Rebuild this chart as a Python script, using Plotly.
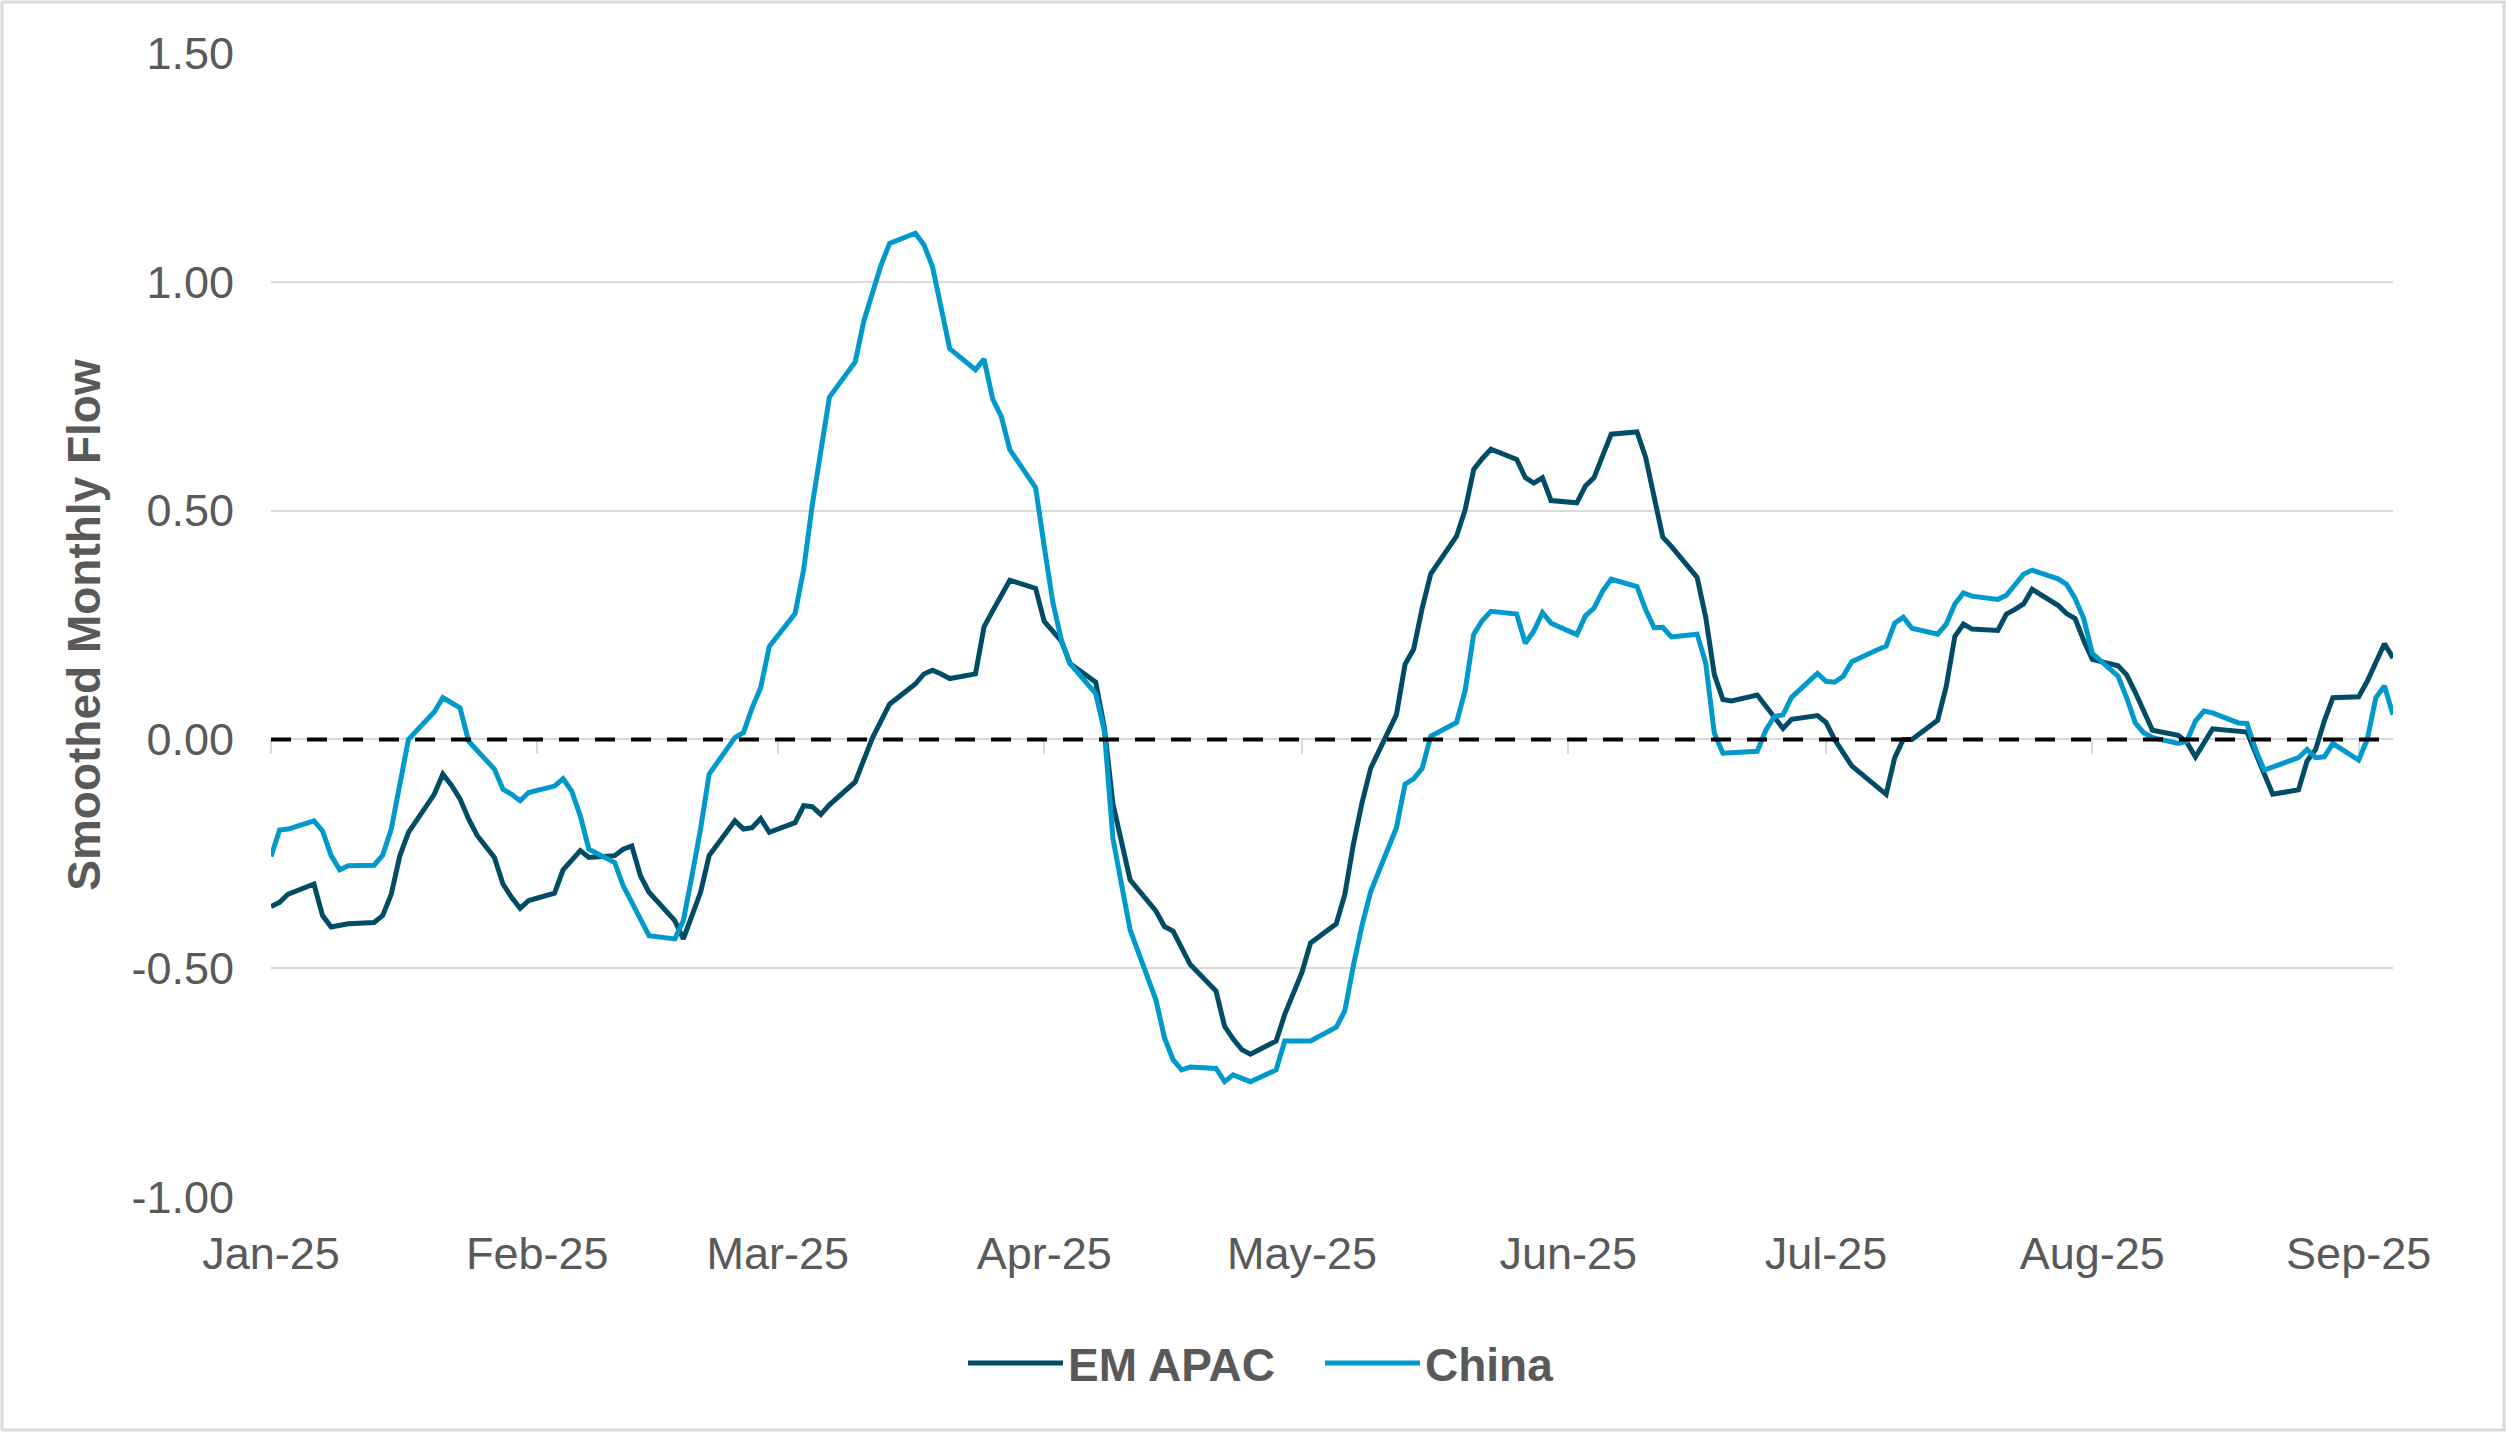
import plotly.graph_objects as go

# EM APAC smoothed monthly flow
em_dates = [
    "2025-01-01", "2025-01-02", "2025-01-03", "2025-01-06", "2025-01-07", "2025-01-08", "2025-01-10",
    "2025-01-13", "2025-01-14", "2025-01-15", "2025-01-16", "2025-01-17", "2025-01-20", "2025-01-21",
    "2025-01-22", "2025-01-23", "2025-01-24", "2025-01-25", "2025-01-27", "2025-01-28", "2025-01-29",
    "2025-01-30", "2025-01-31", "2025-02-03", "2025-02-04", "2025-02-05", "2025-02-06", "2025-02-07",
    "2025-02-10", "2025-02-11", "2025-02-12", "2025-02-13", "2025-02-14", "2025-02-17", "2025-02-18",
    "2025-02-20", "2025-02-21", "2025-02-24", "2025-02-25", "2025-02-26", "2025-02-27", "2025-02-28",
    "2025-03-03", "2025-03-04", "2025-03-05", "2025-03-06", "2025-03-07", "2025-03-10", "2025-03-11",
    "2025-03-12", "2025-03-14", "2025-03-17", "2025-03-18", "2025-03-19", "2025-03-20", "2025-03-21",
    "2025-03-24", "2025-03-25", "2025-03-26", "2025-03-28", "2025-03-31", "2025-04-01", "2025-04-03",
    "2025-04-04", "2025-04-07", "2025-04-08", "2025-04-09", "2025-04-11", "2025-04-14", "2025-04-15",
    "2025-04-16", "2025-04-18", "2025-04-21", "2025-04-22", "2025-04-23", "2025-04-24", "2025-04-25",
    "2025-04-28", "2025-04-29", "2025-05-01", "2025-05-02", "2025-05-05", "2025-05-06", "2025-05-07",
    "2025-05-08", "2025-05-09", "2025-05-12", "2025-05-13", "2025-05-14", "2025-05-15", "2025-05-16",
    "2025-05-19", "2025-05-20", "2025-05-21", "2025-05-22", "2025-05-23", "2025-05-26", "2025-05-27",
    "2025-05-28", "2025-05-29", "2025-05-30", "2025-06-02", "2025-06-03", "2025-06-04", "2025-06-06",
    "2025-06-09", "2025-06-10", "2025-06-11", "2025-06-12", "2025-06-13", "2025-06-16", "2025-06-17",
    "2025-06-18", "2025-06-19", "2025-06-20", "2025-06-23", "2025-06-24", "2025-06-25", "2025-06-26",
    "2025-06-27", "2025-06-30", "2025-07-01", "2025-07-02", "2025-07-04", "2025-07-07", "2025-07-08",
    "2025-07-09", "2025-07-10", "2025-07-11", "2025-07-14", "2025-07-15", "2025-07-16", "2025-07-17",
    "2025-07-18", "2025-07-21", "2025-07-22", "2025-07-23", "2025-07-24", "2025-07-25", "2025-07-28",
    "2025-07-29", "2025-07-30", "2025-07-31", "2025-08-01", "2025-08-04", "2025-08-05", "2025-08-06",
    "2025-08-08", "2025-08-11", "2025-08-12", "2025-08-13", "2025-08-14", "2025-08-15", "2025-08-19",
    "2025-08-20", "2025-08-21", "2025-08-22", "2025-08-25", "2025-08-26", "2025-08-27", "2025-08-28",
    "2025-08-29", "2025-09-01", "2025-09-02", "2025-09-03", "2025-09-04", "2025-09-05",
]
em_values = [
    -0.365, -0.356, -0.338, -0.316, -0.385, -0.41, -0.403,
    -0.40, -0.385, -0.338, -0.254, -0.203, -0.12, -0.076,
    -0.10, -0.13, -0.174, -0.21, -0.258, -0.316, -0.345,
    -0.369, -0.352, -0.336, -0.285, -0.262, -0.243, -0.258,
    -0.254, -0.24, -0.233, -0.298, -0.334, -0.396, -0.436,
    -0.334, -0.254, -0.178, -0.196, -0.193, -0.173, -0.203,
    -0.182, -0.145, -0.147, -0.164, -0.143, -0.093, -0.042,
    0.003, 0.077, 0.121, 0.143, 0.151, 0.143, 0.133,
    0.143, 0.246, 0.281, 0.348, 0.33, 0.258, 0.215,
    0.166, 0.125, 0.026, -0.141, -0.307, -0.375, -0.409,
    -0.419, -0.492, -0.55, -0.627, -0.655, -0.678, -0.688,
    -0.659, -0.601, -0.509, -0.445, -0.403, -0.338, -0.228,
    -0.138, -0.063, 0.054, 0.164, 0.197, 0.287, 0.362,
    0.444, 0.502, 0.59, 0.614, 0.634, 0.612, 0.572,
    0.56, 0.572, 0.522, 0.517, 0.554, 0.572, 0.667,
    0.672, 0.617, 0.527, 0.442, 0.422, 0.354, 0.267,
    0.142, 0.087, 0.084, 0.097, 0.074, 0.047, 0.024,
    0.044, 0.052, 0.037, 0.0, -0.058, -0.105, -0.12,
    -0.04, 0.0, 0.0, 0.042, 0.116, 0.225, 0.252,
    0.241, 0.238, 0.274, 0.284, 0.296, 0.328, 0.293,
    0.275, 0.264, 0.216, 0.175, 0.161, 0.141, 0.103,
    0.02, 0.009, -0.006, -0.038, -0.006, 0.023, 0.016,
    -0.029, -0.069, -0.12, -0.11, -0.047, -0.022, 0.04,
    0.091, 0.093, 0.127, 0.168, 0.209, 0.178,
]

# China smoothed monthly flow
cn_dates = [
    "2025-01-01", "2025-01-02", "2025-01-03", "2025-01-06", "2025-01-07", "2025-01-08", "2025-01-09",
    "2025-01-10", "2025-01-13", "2025-01-14", "2025-01-15", "2025-01-16", "2025-01-17", "2025-01-20",
    "2025-01-21", "2025-01-23", "2025-01-24", "2025-01-27", "2025-01-28", "2025-01-29", "2025-01-30",
    "2025-01-31", "2025-02-03", "2025-02-04", "2025-02-05", "2025-02-06", "2025-02-07", "2025-02-10",
    "2025-02-11", "2025-02-12", "2025-02-14", "2025-02-17", "2025-02-18", "2025-02-19", "2025-02-20",
    "2025-02-21", "2025-02-24", "2025-02-25", "2025-02-26", "2025-02-27", "2025-02-28", "2025-03-03",
    "2025-03-04", "2025-03-05", "2025-03-07", "2025-03-10", "2025-03-11", "2025-03-13", "2025-03-14",
    "2025-03-17", "2025-03-18", "2025-03-19", "2025-03-21", "2025-03-24", "2025-03-25", "2025-03-26",
    "2025-03-27", "2025-03-28", "2025-03-31", "2025-04-01", "2025-04-02", "2025-04-03", "2025-04-04",
    "2025-04-07", "2025-04-08", "2025-04-09", "2025-04-11", "2025-04-14", "2025-04-15", "2025-04-16",
    "2025-04-17", "2025-04-18", "2025-04-21", "2025-04-22", "2025-04-23", "2025-04-25", "2025-04-28",
    "2025-04-29", "2025-05-02", "2025-05-05", "2025-05-06", "2025-05-07", "2025-05-08", "2025-05-09",
    "2025-05-12", "2025-05-13", "2025-05-14", "2025-05-15", "2025-05-16", "2025-05-19", "2025-05-20",
    "2025-05-21", "2025-05-22", "2025-05-23", "2025-05-26", "2025-05-27", "2025-05-28", "2025-05-29",
    "2025-05-30", "2025-06-02", "2025-06-03", "2025-06-04", "2025-06-05", "2025-06-06", "2025-06-09",
    "2025-06-10", "2025-06-11", "2025-06-12", "2025-06-13", "2025-06-16", "2025-06-17", "2025-06-18",
    "2025-06-19", "2025-06-23", "2025-06-24", "2025-06-25", "2025-06-26", "2025-06-27", "2025-06-30",
    "2025-07-01", "2025-07-02", "2025-07-03", "2025-07-04", "2025-07-07", "2025-07-08", "2025-07-09",
    "2025-07-10", "2025-07-11", "2025-07-14", "2025-07-15", "2025-07-16", "2025-07-17", "2025-07-18",
    "2025-07-21", "2025-07-22", "2025-07-24", "2025-07-25", "2025-07-28", "2025-07-29", "2025-07-30",
    "2025-07-31", "2025-08-01", "2025-08-04", "2025-08-05", "2025-08-06", "2025-08-07", "2025-08-08",
    "2025-08-11", "2025-08-12", "2025-08-13", "2025-08-14", "2025-08-15", "2025-08-18", "2025-08-19",
    "2025-08-20", "2025-08-21", "2025-08-25", "2025-08-26", "2025-08-27", "2025-08-28", "2025-08-29",
    "2025-09-01", "2025-09-02", "2025-09-03", "2025-09-04", "2025-09-05",
]
cn_values = [
    -0.256, -0.198, -0.196, -0.178, -0.20, -0.254, -0.285,
    -0.276, -0.275, -0.253, -0.196, -0.098, 0.0, 0.06,
    0.091, 0.069, -0.004, -0.065, -0.109, -0.12, -0.134,
    -0.116, -0.102, -0.086, -0.113, -0.167, -0.24, -0.269,
    -0.32, -0.356, -0.429, -0.436, -0.396, -0.298, -0.196,
    -0.076, 0.004, 0.015, 0.069, 0.113, 0.203, 0.275,
    0.371, 0.512, 0.748, 0.825, 0.914, 1.036, 1.084,
    1.106, 1.081, 1.033, 0.854, 0.808, 0.831, 0.744,
    0.706, 0.633, 0.55, 0.422, 0.30, 0.217, 0.166,
    0.10, 0.019, -0.217, -0.416, -0.569, -0.652, -0.70,
    -0.722, -0.716, -0.719, -0.748, -0.733, -0.748, -0.722,
    -0.659, -0.659, -0.629, -0.593, -0.493, -0.406, -0.333,
    -0.193, -0.098, -0.086, -0.063, 0.007, 0.037, 0.107,
    0.23, 0.26, 0.28, 0.274, 0.21, 0.237, 0.277,
    0.254, 0.229, 0.27, 0.287, 0.324, 0.35, 0.334,
    0.284, 0.244, 0.245, 0.224, 0.23, 0.167, 0.014,
    -0.03, -0.026, 0.02, 0.05, 0.054, 0.092, 0.144,
    0.127, 0.125, 0.138, 0.17, 0.196, 0.204, 0.254,
    0.267, 0.243, 0.23, 0.252, 0.296, 0.32, 0.313,
    0.306, 0.315, 0.361, 0.37, 0.351, 0.339, 0.308,
    0.264, 0.188, 0.138, 0.091, 0.036, 0.014, 0.004,
    -0.009, -0.004, 0.04, 0.062, 0.058, 0.036, 0.035,
    -0.022, -0.067, -0.04, -0.022, -0.04, -0.038, -0.009,
    -0.045, 0.0, 0.091, 0.117, 0.054,
]

y_tickvals = [-1.0, -0.5, 0.0, 0.5, 1.0, 1.5]
y_ticktext = ["-1.00", "-0.50", "0.00", "0.50", "1.00", "1.50"]

text_grey = "#595959"
grid_grey = "#D9D9D9"
font_family = "Liberation Sans, Arial, sans-serif"

W, H = 2506, 1432
ml, mr, mt, mb = 271, 113, 53, 235
pw, ph = W - ml - mr, H - mt - mb

fig = go.Figure()

fig.add_trace(go.Scatter(
    x=em_dates, y=em_values, name="EM APAC", mode="lines",
    line=dict(color="#004C66", width=5),
))
fig.add_trace(go.Scatter(
    x=cn_dates, y=cn_values, name="China", mode="lines",
    line=dict(color="#0099CB", width=5),
))

# dashed zero baseline, on the overlay axis that carries the month ticks at y=0
fig.add_trace(go.Scatter(
    x=[em_dates[0], em_dates[-1]], y=[0, 0], mode="lines",
    line=dict(color="black", width=4, dash="20px,16px"),
    xaxis="x2", showlegend=False, hoverinfo="skip",
))

x_range = [em_dates[0], em_dates[-1]]

fig.update_layout(
    width=W, height=H,
    margin=dict(l=ml, r=mr, t=mt, b=mb),
    paper_bgcolor="white",
    plot_bgcolor="white",
    font=dict(family=font_family, size=45, color=text_grey),
    xaxis=dict(
        range=x_range,
        tickformat="%b-%y",
        dtick="M1",
        tick0="2025-01-01",
        ticks="",
        showgrid=False,
        zeroline=False,
        showline=False,
        ticklabelstandoff=26,
        tickfont=dict(size=45, color=text_grey),
    ),
    xaxis2=dict(
        overlaying="x",
        anchor="free",
        position=0.4,
        range=x_range,
        dtick="M1",
        tick0="2025-01-01",
        ticks="outside",
        ticklen=14,
        tickwidth=2,
        tickcolor=grid_grey,
        showline=True,
        linecolor=grid_grey,
        linewidth=2,
        showticklabels=False,
        showgrid=False,
        zeroline=False,
        layer="below traces",
    ),
    yaxis=dict(
        range=[-1.0, 1.5],
        tickvals=y_tickvals,
        ticktext=y_ticktext,
        showgrid=True,
        gridcolor=grid_grey,
        gridwidth=2,
        zeroline=False,
        showline=False,
        ticks="",
        ticklabelstandoff=36,
        tickfont=dict(size=45, color=text_grey),
        title=dict(
            text="<b>Smoothed Monthly Flow</b>",
            font=dict(size=46, color=text_grey),
            standoff=16,
        ),
    ),
    legend=dict(
        orientation="h",
        x=(963 - ml) / pw, xanchor="left",
        y=-166 / ph, yanchor="middle",
        font=dict(size=46, color=text_grey, family=font_family, weight="bold"),
        itemwidth=95,
        entrywidth=247,
        entrywidthmode="pixels",
        bgcolor="rgba(0,0,0,0)",
    ),
    shapes=[
        dict(
            type="rect", xref="paper", yref="paper",
            x0=(2 - ml) / pw, x1=1 + (mr - 2) / pw,
            y0=-(mb - 2) / ph, y1=1 + (mt - 2) / ph,
            line=dict(color=grid_grey, width=3),
            fillcolor="rgba(0,0,0,0)",
            layer="below",
        )
    ],
)

fig.write_html(
    "out.html",
    config={"displayModeBar": False},
    post_script="document.body.style.margin='0';",
)
